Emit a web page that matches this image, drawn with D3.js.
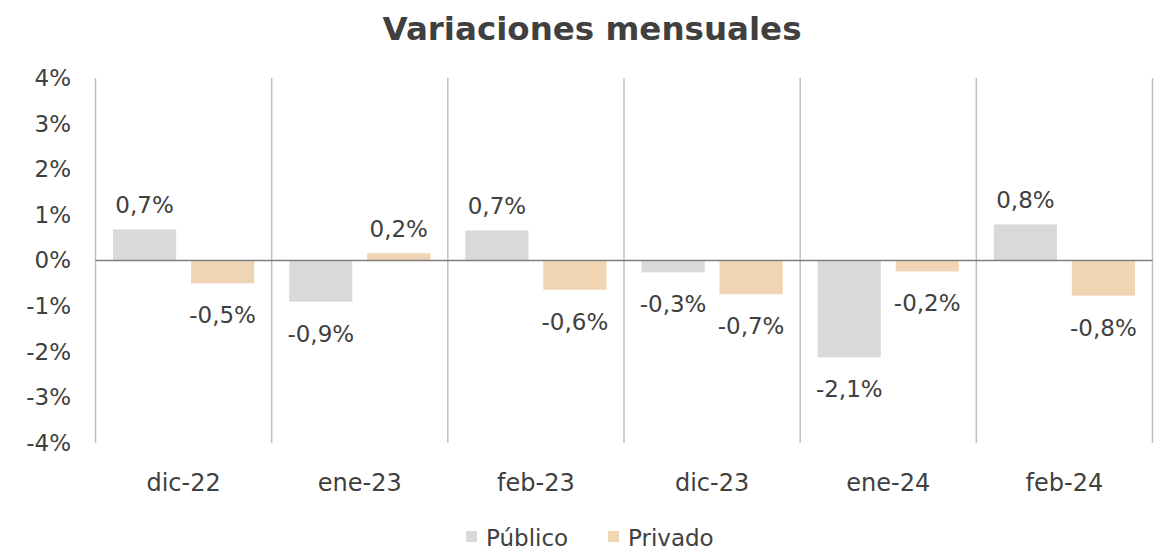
<!DOCTYPE html>
<html>
<head>
<meta charset="utf-8">
<script src="https://cdn.jsdelivr.net/npm/d3@7"></script>
<style>
body { margin: 0; background: #fff; }
text { font-family: "DejaVu Sans", sans-serif; fill: #404040; }
</style>
</head>
<body>
<div id="chart"></div>
<script>
// datos
var months = ["dic-22", "ene-23", "feb-23", "dic-23", "ene-24", "feb-24"];
var publico = [0.68, -0.90, 0.66, -0.26, -2.12, 0.79];
var privado = [-0.50, 0.16, -0.64, -0.74, -0.24, -0.77];
var seriesNames = ["Público", "Privado"];
var yTicks = [4, 3, 2, 1, 0, -1, -2, -3, -4];

var width = 1157;
var height = 552;
var colors = ["#d9d9d9", "#efd5b4"];

var plotLeft = 95.5, plotRight = 1152.5, plotTop = 78, plotBottom = 443;

var svg = d3.select("#chart").append("svg")
	.attr("width", width)
	.attr("height", height);

svg.append("text")
	.attr("x", 592)
	.attr("y", 40)
	.attr("text-anchor", "middle")
	.style("font-size", "32.5px")
	.style("font-weight", "bold")
	.text("Variaciones mensuales");

var x = d3.scaleBand().domain(months).range([plotLeft, plotRight]);
var x1 = d3.scaleBand().domain(seriesNames).range([17.5, x.bandwidth() - 17.5]).paddingInner(0.19);
var y = d3.scaleLinear().domain([-4, 4]).range([plotBottom, plotTop]);

// lineas verticales
svg.append("g").selectAll("line")
	.data(d3.range(months.length + 1))
	.enter().append("line")
	.attr("x1", function(i){ return plotLeft + i * x.bandwidth(); })
	.attr("x2", function(i){ return plotLeft + i * x.bandwidth(); })
	.attr("y1", plotTop)
	.attr("y2", plotBottom)
	.style("stroke", "#bfbfbf")
	.style("stroke-width", 1.5);

// eje y
var yAxis = svg.append("g")
	.attr("transform", "translate(" + 71 + ",0)")
	.call(d3.axisLeft(y).tickValues(yTicks).tickSize(0).tickPadding(0)
		.tickFormat(function(d){ return d + "%"; }));
yAxis.select(".domain").remove();
yAxis.selectAll("text")
	.style("font-size", "23px")
	.style("font-family", "DejaVu Sans")
	.attr("fill", "#404040");

// eje x
var xAxis = svg.append("g")
	.attr("transform", "translate(0," + 491 + ")")
	.call(d3.axisBottom(x).tickSize(0).tickPadding(0));
xAxis.select(".domain").remove();
xAxis.selectAll("text")
	.attr("dy", 0)
	.style("font-size", "24px")
	.style("font-family", "DejaVu Sans")
	.attr("fill", "#404040");

var rows = months.map(function(m, i){
	return { month: m, values: [
		{ name: seriesNames[0], v: publico[i] },
		{ name: seriesNames[1], v: privado[i] }
	]};
});

var groups = svg.append("g").selectAll("g")
	.data(rows)
	.enter().append("g")
	.attr("transform", function(d){ return "translate(" + x(d.month) + ",0)"; });

groups.selectAll("rect")
	.data(function(d){ return d.values; })
	.enter().append("rect")
	.attr("x", function(d){ return x1(d.name); })
	.attr("width", x1.bandwidth())
	.attr("y", function(d){ return y(Math.max(0, d.v)); })
	.attr("height", function(d){ return Math.abs(y(d.v) - y(0)); })
	.style("fill", function(d, i){ return colors[i]; });

var fmt = function(v){ return v.toFixed(1).replace(".", ",") + "%"; };

groups.selectAll("text")
	.data(function(d){ return d.values; })
	.enter().append("text")
	.attr("x", function(d){ return x1(d.name) + x1.bandwidth() / 2; })
	.attr("y", function(d){ return d.v >= 0 ? y(d.v) - 16 : y(d.v) + 40; })
	.attr("text-anchor", "middle")
	.style("font-size", "23px")
	.text(function(d){ return fmt(d.v); });

// linea cero
svg.append("line")
	.attr("x1", plotLeft).attr("x2", plotRight)
	.attr("y1", y(0)).attr("y2", y(0))
	.style("stroke", "#7f7f7f")
	.style("stroke-width", 1.5);

// leyenda
var legend = svg.append("g");
var lx = [466, 608];
seriesNames.forEach(function(n, i){
	legend.append("rect")
		.attr("x", lx[i]).attr("y", 531)
		.attr("width", 11).attr("height", 11)
		.style("fill", colors[i]);
	legend.append("text")
		.attr("x", lx[i] + 20).attr("y", 546)
		.style("font-size", "23px")
		.text(n);
});
</script>
</body>
</html>
